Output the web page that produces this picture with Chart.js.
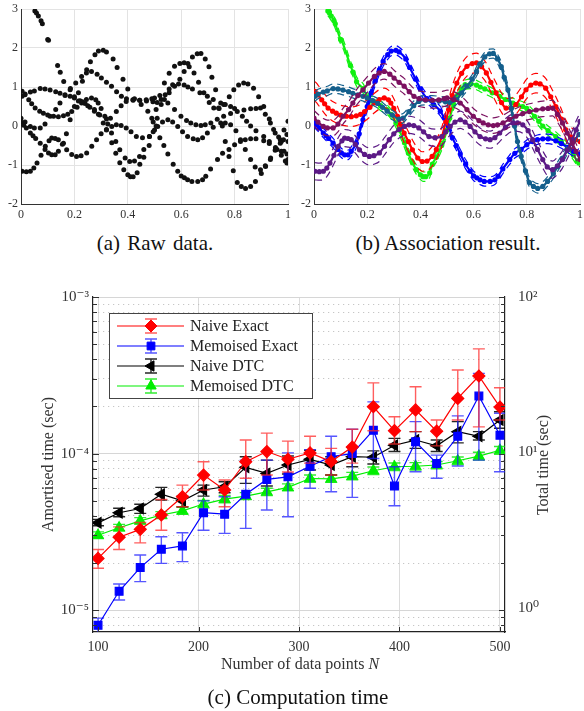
<!DOCTYPE html>
<html lang="en">
<head>
<meta charset="UTF-8">
<title>Association result and computation time</title>
<script src="https://cdn.jsdelivr.net/npm/chart.js@4"></script>
<style>
  body { margin: 0; background: #fff; width: 584px; height: 711px; position: relative; overflow: hidden;
         font-family: "Liberation Serif", serif; color: #111; }
  canvas { position: absolute; }
  .cap { position: absolute; text-align: center; white-space: nowrap; font-size: 21px; line-height: 24px; }
  .axt { position: absolute; text-align: center; white-space: nowrap; font-size: 16px; line-height: 18px; color: #333; }
</style>
</head>
<body>
<canvas id="rawChart" width="292" height="228" style="left:0;top:0"></canvas>
<canvas id="assocChart" width="292" height="228" style="left:292px;top:0"></canvas>
<canvas id="timeChart" width="584" height="400" style="left:0;top:280px"></canvas>

<div class="cap" style="left:55px;width:200px;top:231px;word-spacing:2px">(a) Raw data.</div>
<div class="cap" style="left:340px;width:216px;top:231px">(b) Association result.</div>
<div class="axt" style="left:150px;width:300px;top:655px">Number of data points <i>N</i></div>
<div class="axt" style="left:443px;width:200px;top:456px;transform:rotate(-90deg)">Total time (sec)</div>
<div class="cap" style="left:160px;width:276px;top:685px">(c) Computation time</div>

<script>
// tracks (b), [x, y]; plot (a) shows the same points in black
var trackGreen = [[0.052,2.95],[0.058,2.9],[0.065,2.82],[0.075,2.7],[0.08,2.62],[0.1,2.22],[0.103,2.2],[0.137,1.55],
  [0.147,1.38],[0.16,1.14],[0.185,0.96],[0.2,0.75],[0.215,0.64],[0.23,0.62],[0.25,0.52],[0.275,0.42],[0.29,0.3],
  [0.308,0.08],[0.32,-0.1],[0.34,-0.43],[0.355,-0.7],[0.37,-0.94],[0.385,-1.12],[0.4,-1.25],[0.41,-1.3],[0.42,-1.3],
  [0.435,-1.2],[0.445,-0.98],[0.46,-0.8],[0.48,-0.5],[0.5,-0.1],[0.51,0.2],[0.525,0.55],[0.54,0.8],[0.555,0.95],
  [0.568,1.06],[0.59,1.08],[0.611,1.05],[0.625,1.0],[0.642,0.95],[0.67,0.85],[0.698,0.76],[0.72,0.68],[0.748,0.59],
  [0.765,0.55],[0.785,0.5],[0.8,0.45],[0.829,0.25],[0.845,0.12],[0.86,0.0],[0.88,-0.12],[0.909,-0.27],[0.93,-0.4],
  [0.959,-0.6],[0.975,-0.75],[0.99,-0.9],[0.996,-0.95]];
var trackBlue = [[0.0,0.1],[0.01,0.02],[0.02,-0.05],[0.035,-0.18],[0.045,-0.25],[0.055,-0.32],[0.072,-0.44],[0.09,-0.6],
  [0.103,-0.69],[0.115,-0.74],[0.128,-0.74],[0.14,-0.65],[0.159,-0.44],[0.17,-0.2],[0.184,0.16],[0.2,0.5],[0.215,0.85],
  [0.23,1.15],[0.246,1.44],[0.26,1.65],[0.277,1.83],[0.29,1.92],[0.308,1.94],[0.32,1.9],[0.345,1.72],[0.36,1.5],
  [0.382,1.2],[0.4,0.95],[0.425,0.7],[0.45,0.55],[0.475,0.38],[0.49,0.2],[0.506,0.0],[0.52,-0.3],[0.535,-0.5],
  [0.55,-0.72],[0.57,-0.98],[0.587,-1.16],[0.6,-1.28],[0.612,-1.33],[0.624,-1.38],[0.64,-1.42],[0.662,-1.42],
  [0.68,-1.38],[0.692,-1.29],[0.71,-1.1],[0.736,-0.86],[0.755,-0.7],[0.779,-0.6],[0.8,-0.48],[0.822,-0.4],[0.84,-0.35],
  [0.86,-0.33],[0.88,-0.33],[0.909,-0.38],[0.93,-0.45],[0.953,-0.55],[0.975,-0.65],[0.996,-0.72]];
var trackTeal = [[0.004,0.76],[0.015,0.82],[0.035,0.87],[0.05,0.9],[0.072,0.96],[0.09,0.95],[0.109,0.92],[0.13,0.88],
  [0.146,0.84],[0.165,0.8],[0.184,0.76],[0.2,0.72],[0.221,0.65],[0.24,0.58],[0.258,0.48],[0.275,0.38],[0.295,0.28],
  [0.32,0.18],[0.335,0.2],[0.357,0.37],[0.375,0.52],[0.394,0.63],[0.42,0.66],[0.444,0.66],[0.47,0.64],[0.494,0.62],
  [0.51,0.6],[0.537,0.68],[0.555,0.85],[0.575,1.02],[0.595,1.2],[0.611,1.4],[0.625,1.6],[0.642,1.77],[0.66,1.85],
  [0.674,1.86],[0.69,1.72],[0.704,1.52],[0.715,1.25],[0.729,0.93],[0.742,0.45],[0.754,0.0],[0.765,-0.4],[0.779,-0.78],
  [0.795,-1.15],[0.81,-1.45],[0.825,-1.55],[0.841,-1.6],[0.86,-1.55],[0.878,-1.42],[0.9,-1.22],[0.916,-1.04],
  [0.935,-0.82],[0.953,-0.6],[0.975,-0.4],[0.996,-0.22]];
var trackRed = [[0.004,0.89],[0.015,0.8],[0.029,0.67],[0.04,0.57],[0.053,0.46],[0.07,0.38],[0.084,0.33],[0.1,0.28],
  [0.122,0.25],[0.14,0.24],[0.159,0.26],[0.175,0.3],[0.19,0.37],[0.21,0.48],[0.227,0.59],[0.245,0.68],[0.264,0.72],
  [0.28,0.67],[0.289,0.59],[0.3,0.45],[0.314,0.25],[0.325,0.05],[0.339,-0.18],[0.355,-0.4],[0.37,-0.61],[0.39,-0.82],
  [0.407,-0.91],[0.425,-0.9],[0.444,-0.78],[0.46,-0.6],[0.481,-0.27],[0.495,0.1],[0.506,0.42],[0.52,0.78],[0.537,1.1],
  [0.555,1.35],[0.575,1.53],[0.595,1.6],[0.611,1.62],[0.63,1.52],[0.648,1.36],[0.665,1.12],[0.685,0.85],[0.705,0.6],
  [0.722,0.46],[0.74,0.46],[0.759,0.55],[0.78,0.75],[0.797,0.93],[0.815,1.05],[0.834,1.1],[0.85,1.08],[0.871,0.97],
  [0.89,0.75],[0.909,0.5],[0.93,0.18],[0.946,-0.09],[0.965,-0.28],[0.983,-0.35],[1.0,-0.4]];
var trackMaroon = [[0.0,0.2],[0.015,0.1],[0.035,-0.01],[0.05,-0.05],[0.072,-0.05],[0.09,0.05],[0.109,0.25],[0.13,0.42],
  [0.146,0.59],[0.165,0.78],[0.184,0.93],[0.205,1.1],[0.227,1.27],[0.245,1.36],[0.264,1.4],[0.285,1.33],[0.301,1.23],
  [0.32,1.12],[0.339,1.02],[0.358,0.88],[0.376,0.76],[0.395,0.7],[0.419,0.67],[0.445,0.66],[0.469,0.67],[0.49,0.7],
  [0.5,0.72],[0.525,0.68],[0.55,0.59],[0.575,0.42],[0.599,0.25],[0.62,0.14],[0.636,0.08],[0.655,0.03],[0.674,0.01],
  [0.69,0.03],[0.711,0.08],[0.735,0.17],[0.759,0.25],[0.785,0.32],[0.81,0.37],[0.835,0.41],[0.86,0.44],[0.88,0.45],
  [0.897,0.46],[0.915,0.3],[0.934,0.08],[0.952,-0.18],[0.971,-0.44],[0.985,-0.65],[1.0,-0.86]];
var trackPurple = [[0.004,-1.16],[0.02,-1.17],[0.035,-1.16],[0.048,-1.08],[0.06,-0.95],[0.075,-0.75],[0.091,-0.52],
  [0.105,-0.38],[0.115,-0.31],[0.128,-0.32],[0.14,-0.35],[0.155,-0.47],[0.171,-0.61],[0.19,-0.73],[0.208,-0.78],
  [0.225,-0.76],[0.246,-0.69],[0.265,-0.52],[0.283,-0.35],[0.3,-0.2],[0.32,-0.09],[0.34,-0.01],[0.357,0.03],[0.375,0.01],
  [0.394,-0.05],[0.412,-0.15],[0.432,-0.27],[0.455,-0.3],[0.481,-0.27],[0.495,-0.15],[0.512,-0.01],[0.53,0.1],
  [0.55,0.16],[0.568,0.1],[0.587,-0.01],[0.605,-0.15],[0.624,-0.27],[0.645,-0.33],[0.662,-0.35],[0.68,-0.3],
  [0.698,-0.18],[0.72,-0.03],[0.748,0.08],[0.765,0.08],[0.785,0.03],[0.805,-0.12],[0.822,-0.35],[0.84,-0.6],
  [0.86,-0.86],[0.877,-1.05],[0.897,-1.12],[0.915,-1.02],[0.934,-0.86],[0.952,-0.62],[0.971,-0.35],[0.985,-0.1],[1.0,0.12]];

var tracks = [trackMaroon, trackPurple, trackTeal, trackRed, trackBlue, trackGreen];
var trackColors = ['#7b1160', '#5c1a86', '#145f8c', '#ff0000', '#0000ff', '#10f010'];
var bandHalfWidth = [0.2, 0.22, 0.12, 0.25, 0.12, 0.12];
var unitXTicks = [0, 0.2, 0.4, 0.6, 0.8, 1];
var unitYTicks = [-2, -1, 0, 1, 2, 3];

// (c) computation time
var nPoints = [100, 121, 142, 163, 184, 205, 226, 247, 268, 289, 311, 332, 353, 374, 395, 416, 437, 458, 479, 500];
var naiveExact   = [2.14e-5, 2.92e-5, 3.28e-5, 4.05e-5, 5.3e-5, 7.29e-5, 5.85e-5, 8.87e-5, 1.03e-4, 9.2e-5, 1.01e-4, 8.9e-5, 1.1e-4, 1.99e-4, 1.4e-4, 1.9e-4, 1.39e-4, 2.25e-4, 3.13e-4, 1.98e-4];
var naiveExactLo = [1.85e-5, 2.44e-5, 2.69e-5, 3.24e-5, 4.57e-5, 5.85e-5, 4.57e-5, 6.95e-5, 7.29e-5, 7.62e-5, 8.69e-5, 7.29e-5, 8.69e-5, 1.4e-4, 1.15e-4, 1.38e-4, 1.12e-4, 1.64e-4, 1.48e-4, 1.64e-4];
var naiveExactHi = [2.44e-5, 3.4e-5, 3.63e-5, 5.09e-5, 6.29e-5, 8.87e-5, 6.78e-5, 1.22e-4, 1.35e-4, 1.2e-4, 1.29e-4, 1.08e-4, 1.43e-4, 2.83e-4, 1.72e-4, 2.67e-4, 1.64e-4, 3.42e-4, 4.66e-4, 2.63e-4];
var memoExact   = [8.0e-6, 1.32e-5, 1.87e-5, 2.45e-5, 2.57e-5, 4.19e-5, 4.1e-5, 5.5e-5, 6.84e-5, 7.1e-5, 8.3e-5, 9.55e-5, 1.0e-4, 1.41e-4, 6.2e-5, 1.19e-4, 8.65e-5, 1.29e-4, 2.33e-4, 1.31e-4];
var memoExactLo = [6.45e-6, 1.16e-5, 1.52e-5, 1.99e-5, 2.04e-5, 3.24e-5, 3.09e-5, 3.33e-5, 4.36e-5, 3.95e-5, 6.0e-5, 5.7e-5, 5.25e-5, 9.31e-5, 4.64e-5, 7.66e-5, 6.95e-5, 8.32e-5, 9.08e-5, 7.66e-5];
var memoExactHi = [8.89e-6, 1.47e-5, 2.25e-5, 2.94e-5, 3.12e-5, 4.99e-5, 5.3e-5, 9.08e-5, 9.08e-5, 1.01e-4, 1.06e-4, 1.29e-4, 1.43e-4, 2.14e-4, 8.24e-5, 1.6e-4, 9.78e-5, 1.74e-4, 3.25e-4, 1.81e-4];
var naiveDtc   = [3.61e-5, 4.19e-5, 4.46e-5, 5.5e-5, 4.99e-5, 5.85e-5, 6.14e-5, 8.17e-5, 7.47e-5, 8.45e-5, 9.19e-5, 8.45e-5, 9.55e-5, 9.47e-5, 1.13e-4, 1.22e-4, 1.12e-4, 1.38e-4, 1.29e-4, 1.64e-4];
var naiveDtcLo = [3.46e-5, 3.95e-5, 4.15e-5, 5.04e-5, 4.57e-5, 5.35e-5, 5.62e-5, 6.45e-5, 6.2e-5, 7.4e-5, 7.85e-5, 7.29e-5, 8.24e-5, 8.57e-5, 1.03e-4, 1.08e-4, 1.03e-4, 1.17e-4, 1.22e-4, 1.45e-4];
var naiveDtcHi = [3.8e-5, 4.47e-5, 4.75e-5, 6.08e-5, 5.35e-5, 6.29e-5, 6.6e-5, 9.54e-5, 9.08e-5, 9.64e-5, 1.05e-4, 9.54e-5, 1.1e-4, 1.04e-4, 1.25e-4, 1.38e-4, 1.22e-4, 1.6e-4, 1.38e-4, 1.85e-4];
var memoDtc   = [3.01e-5, 3.36e-5, 3.72e-5, 4.05e-5, 4.31e-5, 4.76e-5, 5.12e-5, 5.35e-5, 5.7e-5, 6.08e-5, 6.93e-5, 6.9e-5, 7.18e-5, 7.77e-5, 8.24e-5, 8.3e-5, 8.45e-5, 9.0e-5, 9.64e-5, 1.05e-4];
var memoDtcLo = [2.87e-5, 3.2e-5, 3.55e-5, 3.85e-5, 4.1e-5, 4.5e-5, 4.85e-5, 5.08e-5, 5.4e-5, 5.78e-5, 6.55e-5, 6.55e-5, 6.8e-5, 7.35e-5, 7.8e-5, 7.85e-5, 8.0e-5, 8.5e-5, 9.1e-5, 9.9e-5];
var memoDtcHi = [3.16e-5, 3.53e-5, 3.9e-5, 4.26e-5, 4.53e-5, 5.02e-5, 5.4e-5, 5.63e-5, 6.0e-5, 6.4e-5, 7.3e-5, 7.3e-5, 7.58e-5, 8.2e-5, 8.7e-5, 8.75e-5, 8.9e-5, 9.5e-5, 1.02e-4, 1.11e-4];

var nTicks = [100, 200, 300, 400, 500];
var amortDecades = [1e-6, 1e-5, 1e-4, 1e-3];
var amortTicks = [1e-5, 1e-4, 1e-3];
var amortTickLabels = ['10\u207B\u2075', '10\u207B\u2074', '10\u207B\u00B3'];
var totalTicks = [1, 10, 100];
var totalTickLabels = ['10\u2070', '10\u00B9', '10\u00B2'];

Chart.defaults.font.family = '"Liberation Serif", "DejaVu Serif", serif';
Chart.defaults.color = '#333';
Chart.defaults.animation = false;

function fixBox(w, h) {
  return function (s) {
    if (w != null) s.width = w;
    if (h != null) s.height = h;
    s.paddingLeft = 0; s.paddingRight = 0; s.paddingTop = 0; s.paddingBottom = 0;
  };
}
function setTicks(list) {
  return function (s) { s.ticks = list.map(function (v) { return {value: v}; }); };
}
function indexIn(list, v) {
  for (var i = 0; i < list.length; i++) if (Math.abs(v / list[i] - 1) < 1e-6) return i;
  return -1;
}

function unitScales(yWidth) {
  return {
    x: {
      type: 'linear', min: 0, max: 1,
      afterBuildTicks: setTicks(unitXTicks), afterFit: fixBox(null, 24),
      grid: {color: '#e3e3e3', drawTicks: false},
      border: {color: '#333', width: 1},
      ticks: {font: {size: 12}, padding: 4, color: '#333', callback: function (v) { return String(v); }}
    },
    y: {
      type: 'linear', min: -2, max: 3,
      afterBuildTicks: setTicks(unitYTicks), afterFit: fixBox(yWidth, null),
      grid: {color: '#e3e3e3', drawTicks: false},
      border: {color: '#333', width: 1},
      ticks: {font: {size: 12}, padding: 3, color: '#333', callback: function (v) { return String(v); }}
    }
  };
}

// (a) raw data
var rawPoints = [];
tracks.forEach(function (t) { t.forEach(function (p) { rawPoints.push({x: p[0], y: p[1]}); }); });

new Chart(document.getElementById('rawChart'), {
  type: 'scatter',
  data: {datasets: [{data: rawPoints, backgroundColor: '#111', borderWidth: 0, pointRadius: 2.5}]},
  options: {
    responsive: false, devicePixelRatio: 1,
    layout: {padding: {top: 9, right: 3, left: 0, bottom: 0}},
    plugins: {legend: {display: false}, tooltip: {enabled: false}},
    scales: unitScales(21)
  }
});

// (b) association result
var assocSets = [];
tracks.forEach(function (t, i) {
  var c = trackColors[i], w = bandHalfWidth[i];
  [w, -w].forEach(function (off) {
    assocSets.push({
      data: t.map(function (p) { return {x: p[0], y: p[1] + off}; }),
      showLine: true, borderColor: c, borderWidth: 1.2, borderDash: [7, 5],
      pointRadius: 0, cubicInterpolationMode: 'monotone'
    });
  });
  assocSets.push({
    data: t.map(function (p) { return {x: p[0], y: p[1]}; }),
    showLine: true, borderColor: c, backgroundColor: c, borderWidth: 2.2,
    pointRadius: 2.6, pointBorderWidth: 0, cubicInterpolationMode: 'monotone'
  });
});

new Chart(document.getElementById('assocChart'), {
  type: 'scatter',
  data: {datasets: assocSets},
  options: {
    responsive: false, devicePixelRatio: 1,
    layout: {padding: {top: 9, right: 1, left: 0, bottom: 0}},
    plugins: {legend: {display: false}, tooltip: {enabled: false}},
    scales: unitScales(22)
  }
});

// (c) computation time
var amortGrid = [];
amortDecades.forEach(function (d) {
  for (var k = 1; k <= 9; k++) {
    var v = +(k * d).toPrecision(3);
    if (v >= 7.25e-6 && v <= 1e-3) amortGrid.push(v);
  }
});
function isMajor(c) { return c.tick ? indexIn(amortTicks, c.tick.value) >= 0 : false; }

function series(vals) {
  return vals.map(function (v, i) { return {x: nPoints[i], y: v}; });
}

var errorBars = {
  id: 'errorBars',
  beforeDatasetDraw: function (chart, args) {
    var ds = chart.data.datasets[args.index];
    if (!ds.errLo) return;
    var ctx = chart.ctx, xs = chart.scales.x, ys = chart.scales.y, a = chart.chartArea;
    ctx.save();
    ctx.beginPath(); ctx.rect(a.left, a.top, a.right - a.left, a.bottom - a.top); ctx.clip();
    ctx.strokeStyle = ds.barColor; ctx.lineWidth = 1.4;
    ds.data.forEach(function (p, i) {
      var x = xs.getPixelForValue(p.x);
      var y1 = ys.getPixelForValue(ds.errLo[i]), y2 = ys.getPixelForValue(ds.errHi[i]);
      ctx.beginPath();
      ctx.moveTo(x, y1); ctx.lineTo(x, y2);
      ctx.moveTo(x - 6, y1); ctx.lineTo(x + 6, y1);
      ctx.moveTo(x - 6, y2); ctx.lineTo(x + 6, y2);
      ctx.stroke();
    });
    ctx.restore();
  }
};

var innerTicks = {
  id: 'innerTicks',
  afterDraw: function (chart) {
    var ctx = chart.ctx, a = chart.chartArea, ys = chart.scales.y, xs = chart.scales.x;
    ctx.save();
    ctx.strokeStyle = '#333'; ctx.lineWidth = 1;
    ctx.beginPath();
    amortGrid.forEach(function (v) {
      var y = Math.round(ys.getPixelForValue(v)) + 0.5, len = indexIn(amortTicks, v) >= 0 ? 6 : 4;
      ctx.moveTo(a.left, y); ctx.lineTo(a.left + len, y);
      ctx.moveTo(a.right, y); ctx.lineTo(a.right - len, y);
    });
    nTicks.forEach(function (v) {
      var x = Math.round(xs.getPixelForValue(v)) + 0.5;
      ctx.moveTo(x, a.bottom); ctx.lineTo(x, a.bottom - 5);
    });
    ctx.stroke();
    ctx.restore();
  }
};

var boxLegend = {
  id: 'boxLegend',
  afterDraw: function (chart) {
    var ctx = chart.ctx;
    var bx = 109, by = 33, bw = 203, bh = 85, rows = [46, 66, 86, 106];
    ctx.save();
    ctx.fillStyle = '#fff'; ctx.fillRect(bx, by, bw, bh);
    ctx.strokeStyle = '#444'; ctx.lineWidth = 1; ctx.strokeRect(bx + 0.5, by + 0.5, bw, bh);
    chart.data.datasets.forEach(function (ds, i) {
      var y = rows[i];
      ctx.strokeStyle = ds.borderColor; ctx.lineWidth = 1.2;
      ctx.beginPath(); ctx.moveTo(117, y); ctx.lineTo(184, y); ctx.stroke();
      ctx.strokeStyle = ds.barColor; ctx.lineWidth = 1.4;
      ctx.beginPath();
      ctx.moveTo(151, y - 7); ctx.lineTo(151, y + 7);
      ctx.moveTo(145, y - 7); ctx.lineTo(157, y - 7);
      ctx.moveTo(145, y + 7); ctx.lineTo(157, y + 7);
      ctx.stroke();
      ctx.fillStyle = ds.backgroundColor; ctx.strokeStyle = ds.borderColor; ctx.lineWidth = 1;
      Chart.helpers.drawPoint(ctx, {pointStyle: ds.pointStyle, radius: ds.pointRadius,
        rotation: ds.pointRotation || 0, borderWidth: 1}, 151, y);
      ctx.fillStyle = '#222'; ctx.font = '16px "Liberation Serif", serif';
      ctx.textBaseline = 'middle'; ctx.textAlign = 'left';
      ctx.fillText(ds.label, 190, y + 1);
    });
    ctx.restore();
  }
};

new Chart(document.getElementById('timeChart'), {
  type: 'scatter',
  data: {
    datasets: [
      {label: 'Naive Exact', data: series(naiveExact), errLo: naiveExactLo, errHi: naiveExactHi,
       showLine: true, borderColor: '#ff0000', backgroundColor: '#ff0000', barColor: 'rgba(255,40,40,0.75)',
       borderWidth: 1.2, pointStyle: 'rectRot', pointRadius: 6},
      {label: 'Memoised Exact', data: series(memoExact), errLo: memoExactLo, errHi: memoExactHi,
       showLine: true, borderColor: '#0000ff', backgroundColor: '#0000ff', barColor: 'rgba(30,30,255,0.75)',
       borderWidth: 1.2, pointStyle: 'rect', pointRadius: 5.5},
      {label: 'Naive DTC', data: series(naiveDtc), errLo: naiveDtcLo, errHi: naiveDtcHi,
       showLine: true, borderColor: '#000', backgroundColor: '#000', barColor: 'rgba(0,0,0,0.85)',
       borderWidth: 1.2, pointStyle: 'triangle', pointRotation: -90, pointRadius: 6},
      {label: 'Memoised DTC', data: series(memoDtc), errLo: memoDtcLo, errHi: memoDtcHi,
       showLine: true, borderColor: '#00ee00', backgroundColor: '#00ee00', barColor: 'rgba(0,230,0,0.8)',
       borderWidth: 1.2, pointStyle: 'triangle', pointRadius: 6}
    ]
  },
  options: {
    responsive: false, devicePixelRatio: 1,
    layout: {padding: {top: 17, right: 0, left: 0, bottom: 0}},
    plugins: {legend: {display: false}, tooltip: {enabled: false}},
    scales: {
      x: {
        type: 'linear', min: 95, max: 505,
        afterBuildTicks: setTicks(nTicks), afterFit: fixBox(null, 48),
        grid: {color: '#dcdcdc', drawTicks: false},
        border: {color: '#222', width: 1.2},
        ticks: {font: {size: 14}, padding: 7, color: '#333'}
      },
      y: {
        type: 'logarithmic', position: 'left', min: 7.25e-6, max: 1e-3,
        afterBuildTicks: setTicks(amortGrid), afterFit: fixBox(93, null),
        grid: {drawTicks: false, color: function (c) { return isMajor(c) ? '#d6d6d6' : '#b9b9b9'; }},
        border: {color: '#222', width: 1.2, dash: function (c) { return isMajor(c) ? [] : [1, 4]; }},
        ticks: {font: {size: 15}, padding: 4, color: '#333', autoSkip: false,
          callback: function (v) { var i = indexIn(amortTicks, v); return i >= 0 ? amortTickLabels[i] : ''; }},
        title: {display: true, text: 'Amortised time (sec)', font: {size: 16}, color: '#333', padding: {top: 39}}
      },
      y1: {
        type: 'logarithmic', position: 'right', min: 0.725, max: 100,
        afterBuildTicks: setTicks(totalTicks), afterFit: fixBox(79, null),
        grid: {display: false},
        border: {color: '#222', width: 1.2},
        ticks: {font: {size: 15}, padding: 5, color: '#333', autoSkip: false,
          callback: function (v) { var i = indexIn(totalTicks, v); return i >= 0 ? totalTickLabels[i] : ''; }}
      }
    }
  },
  plugins: [errorBars, innerTicks, boxLegend]
});
</script>
</body>
</html>
